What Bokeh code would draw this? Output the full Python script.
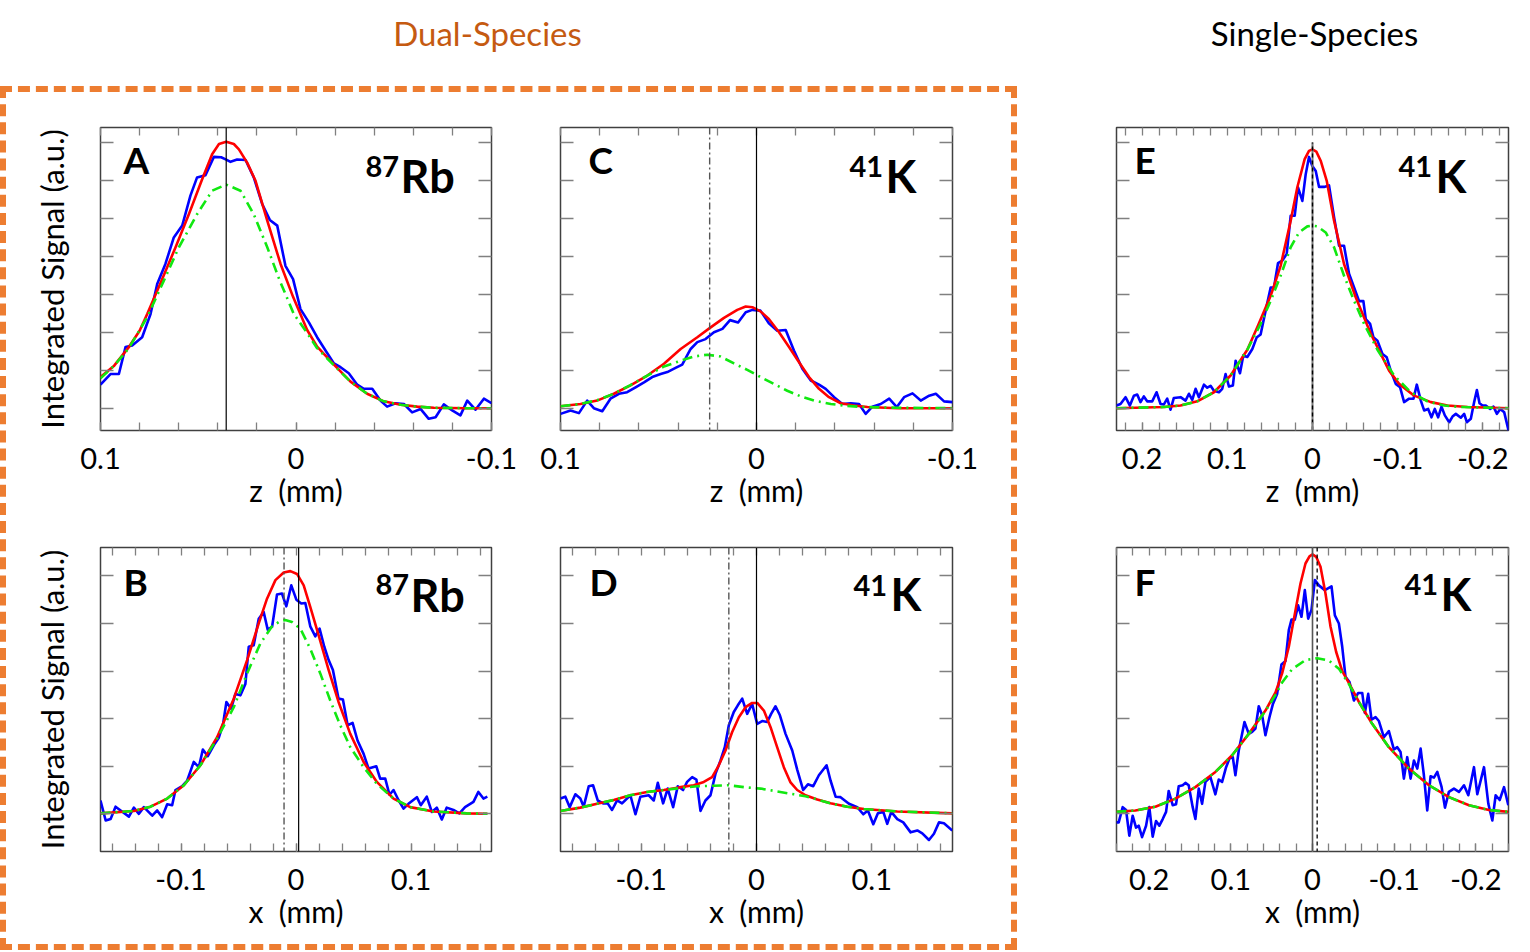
from bokeh.plotting import figure
from bokeh.models import Range1d, LinearAxis, FixedTicker, Label, Span
from bokeh.layouts import column, row
from bokeh.embed import file_html
from bokeh.resources import INLINE

FONT = "Lato"
TICK_COLOR = "#808080"
FRAME_COLOR = "#404040"
BLUE, RED, GREEN = "#0000FF", "#FF0000", "#11E811"

# ---------------- data (x in mm, y in a.u.) ----------------
A_blue = [(0.100,0.62),(0.0949,0.90),(0.0906,0.90),(0.0872,1.61),(0.0838,1.65),(0.0787,1.87),(0.0744,2.48),(0.0710,3.27),(0.0668,3.80),(0.0625,4.50),(0.0582,4.81),(0.0540,5.60),(0.0506,6.08),(0.0463,6.14),(0.0420,6.62),(0.0383,6.61),(0.0357,6.55),(0.0335,6.49),(0.0301,6.55),(0.0258,6.54),(0.0216,6.08),(0.0173,5.38),(0.0134,4.96),(0.0096,4.81),(0.0054,3.75),(0.0015,3.40),(-0.0023,2.61),(-0.0066,2.26),(-0.0108,1.87),(-0.0151,1.52),(-0.0194,1.18),(-0.0228,1.08),(-0.0270,0.92),(-0.0313,0.62),(-0.0347,0.51),(-0.0390,0.51),(-0.0432,0.20),(-0.0466,0.04),(-0.0509,0.13),(-0.0552,0.11),(-0.0594,-0.11),(-0.0637,-0.02),(-0.0679,-0.28),(-0.0714,-0.24),(-0.0756,0.10),(-0.0799,-0.06),(-0.0841,-0.19),(-0.0876,0.20),(-0.0918,-0.04),(-0.0961,0.25),(-0.1000,0.13)]
A_red = [(0.100,0.82),(0.0930,1.12),(0.0855,1.61),(0.0800,2.04),(0.0761,2.48),(0.0688,3.36),(0.0616,4.24),(0.0548,5.11),(0.0483,5.99),(0.0429,6.69),(0.0394,6.96),(0.0357,7.02),(0.0318,6.96),(0.0292,6.82),(0.0250,6.47),(0.0207,5.99),(0.0147,4.94),(0.0079,3.80),(0.0014,2.92),(-0.0057,2.06),(-0.0108,1.62),(-0.0194,1.15),(-0.0279,0.70),(-0.0364,0.38),(-0.0449,0.18),(-0.0535,0.09),(-0.0620,0.04),(-0.0705,0.01),(-0.0876,0.0),(-0.1000,0.0)]
A_green = [(0.100,0.79),(0.0930,1.12),(0.0855,1.58),(0.0761,2.40),(0.0676,3.36),(0.0599,4.24),(0.0506,5.11),(0.0429,5.73),(0.0357,5.89),(0.0284,5.73),(0.0216,5.11),(0.0147,4.24),(0.0083,3.36),(0.0011,2.48),(-0.0057,1.98),(-0.0108,1.58),(-0.0194,1.13),(-0.0279,0.70),(-0.0364,0.38),(-0.0449,0.18),(-0.0535,0.09),(-0.0620,0.04),(-0.0705,0.01),(-0.0876,0.0),(-0.1000,0.0)]

C_blue = [(0.1000,-0.15),(0.0949,-0.06),(0.0906,-0.13),(0.0864,0.20),(0.0830,0.0),(0.0787,-0.08),(0.0745,0.25),(0.0702,0.38),(0.0660,0.42),(0.0617,0.55),(0.0574,0.68),(0.0532,0.82),(0.0489,0.90),(0.0455,0.95),(0.0413,1.06),(0.0379,1.15),(0.0336,1.56),(0.0302,1.74),(0.0260,1.82),(0.0217,2.00),(0.0174,2.09),(0.0135,2.32),(0.0094,2.26),(0.0055,2.53),(0.0021,2.59),(-0.0020,2.57),(-0.0063,2.24),(-0.0106,2.04),(-0.0149,2.06),(-0.0191,1.52),(-0.0234,1.04),(-0.0277,0.73),(-0.0319,0.62),(-0.0353,0.51),(-0.0396,0.29),(-0.0438,0.11),(-0.0481,0.13),(-0.0523,0.11),(-0.0557,-0.15),(-0.0591,0.04),(-0.0634,0.11),(-0.0677,0.25),(-0.0716,0.03),(-0.0753,0.29),(-0.0796,0.39),(-0.0838,0.20),(-0.0881,0.33),(-0.0915,0.38),(-0.0957,0.18),(-0.1000,0.16)]
C_red = [(0.1000,0.05),(0.0898,0.11),(0.0813,0.20),(0.0728,0.38),(0.0643,0.60),(0.0557,0.86),(0.0472,1.17),(0.0387,1.56),(0.0302,1.87),(0.0234,2.13),(0.0166,2.38),(0.0098,2.59),(0.0055,2.68),(0.0021,2.66),(-0.0020,2.55),(-0.0063,2.35),(-0.0115,2.00),(-0.0166,1.61),(-0.0217,1.21),(-0.0268,0.82),(-0.0319,0.51),(-0.0370,0.29),(-0.0430,0.13),(-0.0498,0.07),(-0.0566,0.03),(-0.0719,0.0),(-0.1000,0.0)]
C_green = [(0.1000,0.05),(0.0898,0.11),(0.0813,0.21),(0.0728,0.38),(0.0643,0.61),(0.0557,0.86),(0.0472,1.10),(0.0387,1.25),(0.0319,1.36),(0.0251,1.41),(0.0183,1.36),(0.0115,1.18),(0.0047,1.01),(-0.0021,0.82),(-0.0089,0.64),(-0.0157,0.46),(-0.0226,0.31),(-0.0294,0.20),(-0.0379,0.11),(-0.0464,0.06),(-0.0549,0.03),(-0.0719,0.01),(-0.1000,0.0)]

E_blue = [(0.2300,0.07),(0.2253,0.11),(0.2194,0.29),(0.2143,0.07),(0.2096,0.33),(0.2057,0.36),(0.2018,0.16),(0.1979,0.31),(0.1940,0.18),(0.1881,0.18),(0.1830,0.42),(0.1783,0.11),(0.1744,0.10),(0.1705,0.25),(0.1666,-0.04),(0.1627,0.27),(0.1548,0.29),(0.1490,0.20),(0.1450,0.38),(0.1411,0.22),(0.1372,0.51),(0.1333,0.29),(0.1274,0.62),(0.1235,0.54),(0.1196,0.59),(0.1157,0.46),(0.1098,0.42),(0.1059,0.51),(0.1020,0.90),(0.0980,0.57),(0.0934,0.60),(0.0902,1.25),(0.0851,0.92),(0.0812,1.39),(0.0765,1.35),(0.0706,1.56),(0.0656,1.86),(0.0609,1.94),(0.0550,2.57),(0.0491,3.18),(0.0452,3.18),(0.0405,3.82),(0.0354,3.89),(0.0303,4.06),(0.0256,5.07),(0.0209,5.07),(0.0170,5.82),(0.0119,5.46),(0.0080,6.16),(0.0041,6.62),(0.0002,6.38),(-0.0038,6.25),(-0.0077,5.83),(-0.0135,5.83),(-0.0194,5.87),(-0.0253,5.03),(-0.0312,4.28),(-0.0370,4.28),(-0.0429,3.54),(-0.0488,3.18),(-0.0547,2.82),(-0.0597,2.82),(-0.0625,2.35),(-0.0676,2.22),(-0.0715,1.87),(-0.0762,1.78),(-0.0821,1.43),(-0.0871,1.34),(-0.0918,0.99),(-0.0977,0.64),(-0.1028,0.55),(-0.1075,0.16),(-0.1134,0.25),(-0.1185,0.25),(-0.1224,0.62),(-0.1271,0.20),(-0.1310,-0.06),(-0.1357,-0.02),(-0.1396,-0.24),(-0.1435,-0.02),(-0.1474,-0.24),(-0.1514,0.04),(-0.1553,-0.19),(-0.1604,-0.37),(-0.1643,-0.22),(-0.1682,-0.15),(-0.1741,-0.25),(-0.1780,-0.15),(-0.1811,-0.37),(-0.1858,-0.28),(-0.1897,0.16),(-0.1929,0.48),(-0.1960,0.13),(-0.1995,0.07),(-0.2034,0.07),(-0.2085,-0.02),(-0.2124,0.04),(-0.2164,-0.15),(-0.2203,-0.02),(-0.2250,-0.11),(-0.2301,-0.59)]
E_red = [(0.2300,0.0),(0.1744,0.03),(0.1548,0.07),(0.1352,0.18),(0.1157,0.42),(0.0961,0.86),(0.0765,1.54),(0.0648,2.13),(0.0491,2.96),(0.0374,3.75),(0.0256,4.94),(0.0178,5.82),(0.0092,6.56),(0.0041,6.78),(0.0002,6.82),(-0.0045,6.76),(-0.0096,6.52),(-0.0167,5.99),(-0.0253,4.94),(-0.0370,3.80),(-0.0507,2.92),(-0.0684,1.96),(-0.0899,0.99),(-0.1016,0.64),(-0.1193,0.33),(-0.1389,0.16),(-0.1584,0.07),(-0.1819,0.03),(-0.2301,0.0)]
E_green = [(0.2300,0.0),(0.1744,0.03),(0.1548,0.07),(0.1352,0.18),(0.1157,0.42),(0.0961,0.86),(0.0765,1.54),(0.0609,2.22),(0.0491,2.83),(0.0374,3.49),(0.0256,4.24),(0.0159,4.63),(0.0061,4.79),(0.0002,4.81),(-0.0057,4.79),(-0.0155,4.63),(-0.0253,4.24),(-0.0370,3.49),(-0.0488,2.83),(-0.0606,2.22),(-0.0762,1.54),(-0.0958,0.86),(-0.1153,0.42),(-0.1349,0.18),(-0.1545,0.07),(-0.1741,0.03),(-0.2301,0.0)]

B_blue = [(-0.1700,0.28),(-0.1655,-0.14),(-0.1612,-0.11),(-0.1569,0.15),(-0.1525,0.07),(-0.1453,-0.06),(-0.1410,0.13),(-0.1366,0.0),(-0.1323,0.14),(-0.1250,-0.04),(-0.1207,0.07),(-0.1164,-0.07),(-0.1120,0.20),(-0.1077,0.18),(-0.1048,0.50),(-0.0990,0.58),(-0.0946,0.70),(-0.0889,1.09),(-0.0845,0.98),(-0.0810,1.35),(-0.0767,1.21),(-0.0715,1.44),(-0.0671,1.60),(-0.0634,1.89),(-0.0605,2.35),(-0.0564,2.21),(-0.0527,2.52),(-0.0483,2.49),(-0.0440,2.73),(-0.0411,3.51),(-0.0368,3.54),(-0.0324,4.10),(-0.0281,4.24),(-0.0246,3.87),(-0.0208,3.93),(-0.0165,4.61),(-0.0122,4.63),(-0.0084,4.36),(-0.0041,4.80),(0.0003,4.50),(0.0046,4.42),(0.0081,4.43),(0.0124,3.94),(0.0168,3.73),(0.0205,3.89),(0.0246,3.51),(0.0284,3.23),(0.0321,3.02),(0.0370,2.42),(0.0408,2.40),(0.0449,1.86),(0.0492,1.91),(0.0535,1.54),(0.0588,1.26),(0.0631,0.95),(0.0698,1.00),(0.0732,0.74),(0.0776,0.74),(0.0813,0.40),(0.0848,0.50),(0.0891,0.29),(0.0935,0.11),(0.0978,0.21),(0.1051,0.35),(0.1085,0.18),(0.1137,0.36),(0.1181,0.04),(0.1224,0.13),(0.1268,-0.12),(0.1311,0.13),(0.1369,0.08),(0.1421,0.01),(0.1470,0.14),(0.1543,0.25),(0.1586,0.46),(0.1630,0.32),(0.1664,0.36)]
B_red = [(-0.1700,0.01),(-0.1410,0.06),(-0.1265,0.15),(-0.1120,0.32),(-0.0975,0.60),(-0.0831,1.02),(-0.0686,1.61),(-0.0541,2.42),(-0.0425,3.23),(-0.0324,4.00),(-0.0252,4.52),(-0.0179,4.91),(-0.0107,5.07),(-0.0049,5.10),(0.0009,5.04),(0.0067,4.80),(0.0124,4.35),(0.0197,3.75),(0.0284,3.02),(0.0370,2.35),(0.0472,1.68),(0.0588,1.09),(0.0703,0.67),(0.0848,0.32),(0.0993,0.14),(0.1195,0.05),(0.1485,0.01),(0.1664,0.0)]
B_green = [(-0.1700,0.01),(-0.1410,0.06),(-0.1265,0.15),(-0.1120,0.32),(-0.0975,0.60),(-0.0831,1.02),(-0.0686,1.58),(-0.0541,2.24),(-0.0425,2.95),(-0.0310,3.58),(-0.0208,3.94),(-0.0136,4.05),(-0.0093,4.07),(-0.0035,4.03),(0.0038,3.89),(0.0124,3.47),(0.0211,2.95),(0.0298,2.38),(0.0385,1.86),(0.0472,1.40),(0.0588,0.98),(0.0703,0.63),(0.0848,0.32),(0.0993,0.14),(0.1195,0.05),(0.1485,0.01),(0.1664,0.0)]

D_blue = [(-0.1701,0.32),(-0.1658,0.36),(-0.1620,0.14),(-0.1571,0.41),(-0.1528,0.32),(-0.1499,0.15),(-0.1455,0.58),(-0.1418,0.60),(-0.1377,0.28),(-0.1331,0.22),(-0.1291,0.22),(-0.1253,0.08),(-0.1209,0.28),(-0.1166,0.22),(-0.1094,0.39),(-0.1050,-0.01),(-0.1007,0.36),(-0.0935,0.39),(-0.0891,0.28),(-0.0856,0.65),(-0.0810,0.22),(-0.0770,0.53),(-0.0723,0.14),(-0.0683,0.58),(-0.0637,0.50),(-0.0602,0.67),(-0.0558,0.77),(-0.0521,0.72),(-0.0486,0.06),(-0.0443,0.28),(-0.0399,0.39),(-0.0356,0.84),(-0.0312,1.12),(-0.0275,1.40),(-0.0240,1.86),(-0.0197,2.14),(-0.0162,2.28),(-0.0124,2.42),(-0.0081,2.10),(-0.0038,2.31),(0.0006,1.89),(0.0049,1.95),(0.0093,1.93),(0.0127,2.10),(0.0165,2.26),(0.0203,2.07),(0.0252,1.68),(0.0310,1.33),(0.0353,0.93),(0.0405,0.50),(0.0446,0.62),(0.0492,0.58),(0.0541,0.81),(0.0608,1.02),(0.0642,0.70),(0.0686,0.36),(0.0729,0.35),(0.0802,0.21),(0.0874,0.14),(0.0926,-0.01),(0.0966,0.07),(0.1013,-0.22),(0.1053,0.01),(0.1100,0.04),(0.1134,-0.21),(0.1169,0.04),(0.1221,-0.11),(0.1273,-0.18),(0.1337,-0.39),(0.1395,-0.35),(0.1438,-0.41),(0.1496,-0.55),(0.1539,-0.42),(0.1583,-0.18),(0.1626,-0.20),(0.1698,-0.35)]
D_red = [(-0.1701,0.06),(-0.1528,0.13),(-0.1383,0.21),(-0.1238,0.29),(-0.1094,0.39),(-0.0949,0.46),(-0.0804,0.50),(-0.0660,0.56),(-0.0544,0.60),(-0.0457,0.67),(-0.0385,0.77),(-0.0327,1.02),(-0.0269,1.33),(-0.0211,1.72),(-0.0153,2.03),(-0.0095,2.24),(-0.0038,2.33),(0.0006,2.33),(0.0064,2.17),(0.0122,1.82),(0.0179,1.40),(0.0237,0.98),(0.0295,0.66),(0.0353,0.50),(0.0425,0.39),(0.0527,0.30),(0.0642,0.22),(0.0787,0.15),(0.0932,0.10),(0.1221,0.05),(0.1698,0.01)]
D_green = [(-0.1701,0.06),(-0.1528,0.13),(-0.1383,0.21),(-0.1238,0.29),(-0.1094,0.39),(-0.0949,0.46),(-0.0804,0.50),(-0.0660,0.54),(-0.0515,0.58),(-0.0370,0.59),(-0.0240,0.60),(-0.0110,0.56),(0.0035,0.53),(0.0179,0.47),(0.0324,0.41),(0.0425,0.37),(0.0527,0.30),(0.0642,0.22),(0.0787,0.15),(0.0932,0.10),(0.1221,0.05),(0.1698,0.01)]

F_blue = [(0.2402,-0.18),(0.2373,-0.18),(0.2324,0.14),(0.2283,0.08),(0.2243,-0.46),(0.2202,-0.04),(0.2161,-0.29),(0.2128,-0.25),(0.2087,-0.49),(0.2038,-0.25),(0.1998,0.14),(0.1957,-0.48),(0.1916,-0.15),(0.1875,-0.25),(0.1834,-0.11),(0.1793,0.04),(0.1761,0.48),(0.1712,0.18),(0.1671,0.20),(0.1638,0.58),(0.1589,0.60),(0.1556,0.65),(0.1516,0.60),(0.1467,0.14),(0.1434,-0.11),(0.1393,0.53),(0.1352,0.21),(0.1311,0.67),(0.1250,0.77),(0.1189,0.41),(0.1148,0.72),(0.1107,0.67),(0.1058,0.98),(0.1017,1.16),(0.0976,1.19),(0.0944,0.81),(0.0903,1.33),(0.0833,1.93),(0.0780,1.68),(0.0739,1.72),(0.0699,1.79),(0.0658,2.26),(0.0617,2.07),(0.0576,1.65),(0.0527,2.03),(0.0486,2.30),(0.0433,2.52),(0.0380,3.14),(0.0331,3.21),(0.0290,3.86),(0.0257,4.08),(0.0217,4.08),(0.0176,4.38),(0.0135,4.14),(0.0094,4.70),(0.0053,4.10),(0.0012,4.29),(-0.0029,4.91),(-0.0078,4.80),(-0.0151,4.70),(-0.0233,4.78),(-0.0274,4.17),(-0.0323,4.00),(-0.0364,3.51),(-0.0404,2.88),(-0.0453,2.77),(-0.0507,2.38),(-0.0560,2.54),(-0.0609,2.54),(-0.0641,2.12),(-0.0682,2.52),(-0.0723,1.98),(-0.0772,2.03),(-0.0813,1.95),(-0.0874,1.61),(-0.0935,1.74),(-0.0997,1.35),(-0.1038,1.40),(-0.1078,1.30),(-0.1119,0.74),(-0.1160,1.19),(-0.1201,0.74),(-0.1242,1.12),(-0.1283,0.95),(-0.1324,1.37),(-0.1364,0.81),(-0.1405,0.07),(-0.1446,0.79),(-0.1487,0.76),(-0.1528,0.88),(-0.1581,0.56),(-0.1622,0.13),(-0.1670,0.46),(-0.1732,0.53),(-0.1793,0.46),(-0.1855,0.60),(-0.1908,0.39),(-0.1977,0.98),(-0.2018,0.41),(-0.2100,0.98),(-0.2153,0.21),(-0.2202,-0.14),(-0.2243,0.39),(-0.2292,0.29),(-0.2345,0.56),(-0.2398,0.18)]
F_red = [(0.2402,0.04),(0.2169,0.07),(0.1924,0.15),(0.1679,0.32),(0.1434,0.56),(0.1189,0.88),(0.0984,1.23),(0.0780,1.68),(0.0576,2.17),(0.0453,2.55),(0.0372,2.95),(0.0290,3.51),(0.0208,4.28),(0.0147,4.84),(0.0086,5.26),(0.0037,5.41),(0.0000,5.45),(-0.0045,5.40),(-0.0098,5.19),(-0.0159,4.63),(-0.0221,3.93),(-0.0290,3.40),(-0.0364,3.00),(-0.0445,2.75),(-0.0568,2.35),(-0.0731,1.89),(-0.0935,1.40),(-0.1181,0.95),(-0.1426,0.60),(-0.1671,0.35),(-0.1916,0.18),(-0.2161,0.08),(-0.2398,0.04)]
F_green = [(0.2402,0.04),(0.2169,0.07),(0.1924,0.15),(0.1679,0.32),(0.1434,0.56),(0.1189,0.88),(0.0984,1.23),(0.0780,1.68),(0.0576,2.16),(0.0453,2.50),(0.0372,2.76),(0.0249,3.04),(0.0086,3.23),(-0.0057,3.27),(-0.0200,3.22),(-0.0323,3.05),(-0.0445,2.73),(-0.0568,2.35),(-0.0731,1.89),(-0.0935,1.40),(-0.1181,0.95),(-0.1426,0.60),(-0.1671,0.35),(-0.1916,0.18),(-0.2161,0.08),(-0.2398,0.04)]

# fitted centres (vertical reference lines)
A_center = 0.0357
B_center, B_center2 = 0.0023, -0.0104
C_center, C_center2 = 0.0, 0.0239
D_center, D_center2 = 0.0, -0.0240
E_center, E_line_top = 0.0, 7.0
F_center, F_center2 = 0.0, -0.0057

# axis ticks / labels
AC_xticks, AC_xlabels = [0.1, 0.0, -0.1], ["0.1", "0", "-0.1"]
BD_xticks, BD_xlabels = [-0.1, 0.0, 0.1], ["-0.1", "0", "0.1"]
EF_xticks, EF_xlabels = [0.2, 0.1, 0.0, -0.1, -0.2], ["0.2", "0.1", "0", "-0.1", "-0.2"]
AC_minor = [round(0.1 - 0.02 * i, 2) for i in range(11)]
BD_minor = [round(-0.16 + 0.02 * i, 2) for i in range(17)]
E_minor = [round(0.22 - 0.02 * i, 2) for i in range(23)]
F_minor = [round(0.24 - 0.02 * i, 2) for i in range(25)]
TOP_yticks = [0, 1, 2, 3, 4, 5, 6, 7]
BOT_yticks = [0, 1, 2, 3, 4, 5]
YLABEL = "Integrated Signal (a.u.)"
ZLABEL = "z\u00a0\u00a0(mm)"
XLABEL = "x\u00a0\u00a0(mm)"

# ---------------- layout geometry (page px, page origin at 0,0) ----------------
HEADER_H = 86
BORDER = 6
ROW1_Y, ROW2_Y = 92, 515
COL1_X, COL2_X, COL3_X = 6, 530, 1017
R1 = dict(h=423, mt=35, fh=303)
R2 = dict(h=429, mt=32, fh=304)
R1E = dict(h=429, mt=41, fh=303)
C1 = dict(w=524, ml=94, fw=391)
C2 = dict(w=481, ml=30, fw=392)
C3 = dict(w=511, ml=99, fw=392)
TOP_YR = (-0.588, 7.395)
BOT_YR = (-0.792, 5.596)
TICK_FS, AXLAB_FS, YLAB_FS = "29px", "30px", "31px"
BASELINE_FIX = 0.38   # Label anchor correction (fraction of font size)


def unzip(pts):
    return [p[0] for p in pts], [p[1] for p in pts]


def hidden_axis(ticker, tick_len):
    return LinearAxis(ticker=ticker, axis_line_color=None,
                      major_tick_in=tick_len, major_tick_out=0, minor_tick_in=0, minor_tick_out=0,
                      major_tick_line_color=TICK_COLOR, major_tick_line_width=1.3,
                      major_label_text_font_size="0px", major_label_text_color=None,
                      major_label_standoff=0)


def make_panel(col, rw, colx, rowy, xr, yr, xticks, xlabels, xminor, yticks, xlabel, ylabel=None):
    p = figure(width=col["w"], height=rw["h"], x_range=Range1d(*xr), y_range=Range1d(*yr),
               output_backend="svg", toolbar_location=None,
               min_border_left=col["ml"], min_border_right=col["w"] - col["ml"] - col["fw"],
               min_border_top=rw["mt"], min_border_bottom=rw["h"] - rw["mt"] - rw["fh"])
    p.xgrid.visible = False
    p.ygrid.visible = False
    p.outline_line_color = FRAME_COLOR
    p.outline_line_width = 1.5
    p.background_fill_color = "white"
    p.border_fill_color = "white"

    xa = p.xaxis[0]
    xa.ticker = FixedTicker(ticks=xticks, minor_ticks=xminor)
    xa.major_label_overrides = dict(zip(xticks, xlabels))
    xa.axis_line_color = None
    xa.major_tick_in, xa.major_tick_out = 8, 0
    xa.minor_tick_in, xa.minor_tick_out = 8, 0
    xa.major_tick_line_color = TICK_COLOR
    xa.minor_tick_line_color = TICK_COLOR
    xa.major_tick_line_width = 1.3
    xa.minor_tick_line_width = 1.3
    xa.major_label_text_font = FONT
    xa.major_label_text_font_size = TICK_FS
    xa.major_label_text_color = "black"
    xa.major_label_standoff = 17
    xa.axis_label = xlabel
    xa.axis_label_text_font = FONT
    xa.axis_label_text_font_size = AXLAB_FS
    xa.axis_label_text_font_style = "normal"
    xa.axis_label_text_color = "black"
    xa.axis_label_standoff = 0

    ya = p.yaxis[0]
    ya.ticker = FixedTicker(ticks=yticks)
    ya.axis_line_color = None
    ya.major_tick_in, ya.major_tick_out = 13, 0
    ya.minor_tick_in, ya.minor_tick_out = 0, 0
    ya.major_tick_line_color = TICK_COLOR
    ya.major_tick_line_width = 1.3
    ya.major_label_text_font_size = "0px"
    ya.major_label_text_color = None
    ya.major_label_standoff = 0
    if ylabel:
        ya.axis_label = ylabel
        ya.axis_label_text_font = FONT
        ya.axis_label_text_font_size = YLAB_FS
        ya.axis_label_text_font_style = "normal"
        ya.axis_label_text_color = "black"
        ya.axis_label_standoff = 30

    p.add_layout(hidden_axis(FixedTicker(ticks=xminor), 8), "above")
    p.add_layout(hidden_axis(FixedTicker(ticks=yticks), 13), "right")

    geom = dict(fx0=colx + col["ml"], fy0=rowy + rw["mt"], fw=col["fw"], fh=rw["fh"], xr=xr, yr=yr)
    return p, geom


def add_text(p, g, xa, ya, text, size, bold=True, color="black"):
    ya = ya - BASELINE_FIX * size
    x = g["xr"][0] + (xa - g["fx0"]) / g["fw"] * (g["xr"][1] - g["xr"][0])
    y = g["yr"][0] + (g["fy0"] + g["fh"] - ya) / g["fh"] * (g["yr"][1] - g["yr"][0])
    p.add_layout(Label(x=x, y=y, text=text, text_font=FONT, text_font_size=f"{size}px",
                       text_font_style="bold" if bold else "normal", text_color=color,
                       text_align="left", text_baseline="alphabetic"))


def draw_curves(p, blue, red, green):
    bx, by = unzip(blue)
    rx, ry = unzip(red)
    gx, gy = unzip(green)
    p.line(bx, by, line_color=BLUE, line_width=2.6, line_join="round")
    p.line(rx, ry, line_color=RED, line_width=2.6, line_join="round")
    p.line(gx, gy, line_color=GREEN, line_width=2.6, line_dash="10 5 2 5")


def vline(p, x, color="black", width=1.2, dash="solid"):
    p.add_layout(Span(location=x, dimension="height", line_color=color, line_width=width, line_dash=dash))


def isotope(p, g, x_sup, y_sup, x_main, y_main, sup, main):
    add_text(p, g, x_sup, y_sup, sup, 29)
    add_text(p, g, x_main, y_main, main, 45)


# ---------------- panels ----------------
pA, gA = make_panel(C1, R1, COL1_X, ROW1_Y, (0.1, -0.1), TOP_YR, AC_xticks, AC_xlabels, AC_minor, TOP_yticks, ZLABEL, YLABEL)
draw_curves(pA, A_blue, A_red, A_green)
vline(pA, A_center)
add_text(pA, gA, 123, 173, "A", 37)
isotope(pA, gA, 365, 177, 400, 193, "87", "Rb")

pC, gC = make_panel(C2, R1, COL2_X, ROW1_Y, (0.1, -0.1), TOP_YR, AC_xticks, AC_xlabels, AC_minor, TOP_yticks, ZLABEL)
draw_curves(pC, C_blue, C_red, C_green)
vline(pC, C_center)
vline(pC, C_center2, color="#555555", width=1.4, dash="7 3 2 3")
add_text(pC, gC, 588, 173, "C", 37)
isotope(pC, gC, 849, 177, 885, 193, "41", "K")

pE, gE = make_panel(C3, R1E, COL3_X, HEADER_H, (0.23, -0.23), TOP_YR, EF_xticks, EF_xlabels, E_minor, TOP_yticks, ZLABEL)
draw_curves(pE, E_blue, E_red, E_green)
pE.line([E_center, E_center], [TOP_YR[0], E_line_top], line_color="#777777", line_width=2)
pE.line([E_center, E_center], [TOP_YR[0], E_line_top], line_color="black", line_width=1.4, line_dash="4 3")
add_text(pE, gE, 1134, 173, "E", 37)
isotope(pE, gE, 1398, 177, 1435, 193, "41", "K")

pB, gB = make_panel(C1, R2, COL1_X, ROW2_Y, (-0.17, 0.17), BOT_YR, BD_xticks, BD_xlabels, BD_minor, BOT_yticks, XLABEL, YLABEL)
draw_curves(pB, B_blue, B_red, B_green)
vline(pB, B_center)
vline(pB, B_center2, color="#555555", width=1.4, dash="7 3 2 3")
add_text(pB, gB, 123, 595, "B", 37)
isotope(pB, gB, 375, 595, 410, 612, "87", "Rb")

pD, gD = make_panel(C2, R2, COL2_X, ROW2_Y, (-0.17, 0.17), BOT_YR, BD_xticks, BD_xlabels, BD_minor, BOT_yticks, XLABEL)
draw_curves(pD, D_blue, D_red, D_green)
vline(pD, D_center)
vline(pD, D_center2, color="#555555", width=1.4, dash="7 3 2 3")
add_text(pD, gD, 589, 595, "D", 37)
isotope(pD, gD, 853, 596, 890, 611, "41", "K")

pF, gF = make_panel(C3, R2, COL3_X, ROW2_Y, (0.24, -0.24), BOT_YR, EF_xticks, EF_xlabels, F_minor, BOT_yticks, XLABEL)
draw_curves(pF, F_blue, F_red, F_green)
vline(pF, F_center, color="#555555", width=1.6)
vline(pF, F_center2, color="black", width=1.3, dash="4 3")
add_text(pF, gF, 1134, 595, "F", 37)
isotope(pF, gF, 1404, 595, 1440, 611, "41", "K")

# ---------------- header ----------------
header = figure(width=1528, height=HEADER_H, x_range=Range1d(0, 1528), y_range=Range1d(HEADER_H, 0),
                x_axis_type=None, y_axis_type=None, output_backend="svg", toolbar_location=None,
                min_border=0)
try:
    header.title = None
except Exception:
    header.title.text_font_size = "0px"
    header.title.standoff = 0
header.outline_line_color = None
header.grid.visible = False
TITLE_Y = 45 - BASELINE_FIX * 33
header.add_layout(Label(x=487, y=TITLE_Y, text="Dual-Species", text_font=FONT, text_font_size="33px",
                        text_color="#C55A11", text_align="center", text_baseline="alphabetic"))
header.add_layout(Label(x=1314, y=TITLE_Y, text="Single-Species", text_font=FONT, text_font_size="33px",
                        text_color="black", text_align="center", text_baseline="alphabetic"))

dual = column(row(pA, pC), row(pB, pD),
              styles={"border": f"{BORDER}px dashed #ED7D31", "box-sizing": "content-box"})
single = column(pE, pF)
root = column(header, row(dual, single))

open("out.html", "w").write(file_html(root, INLINE, title="Dual vs single species"))
